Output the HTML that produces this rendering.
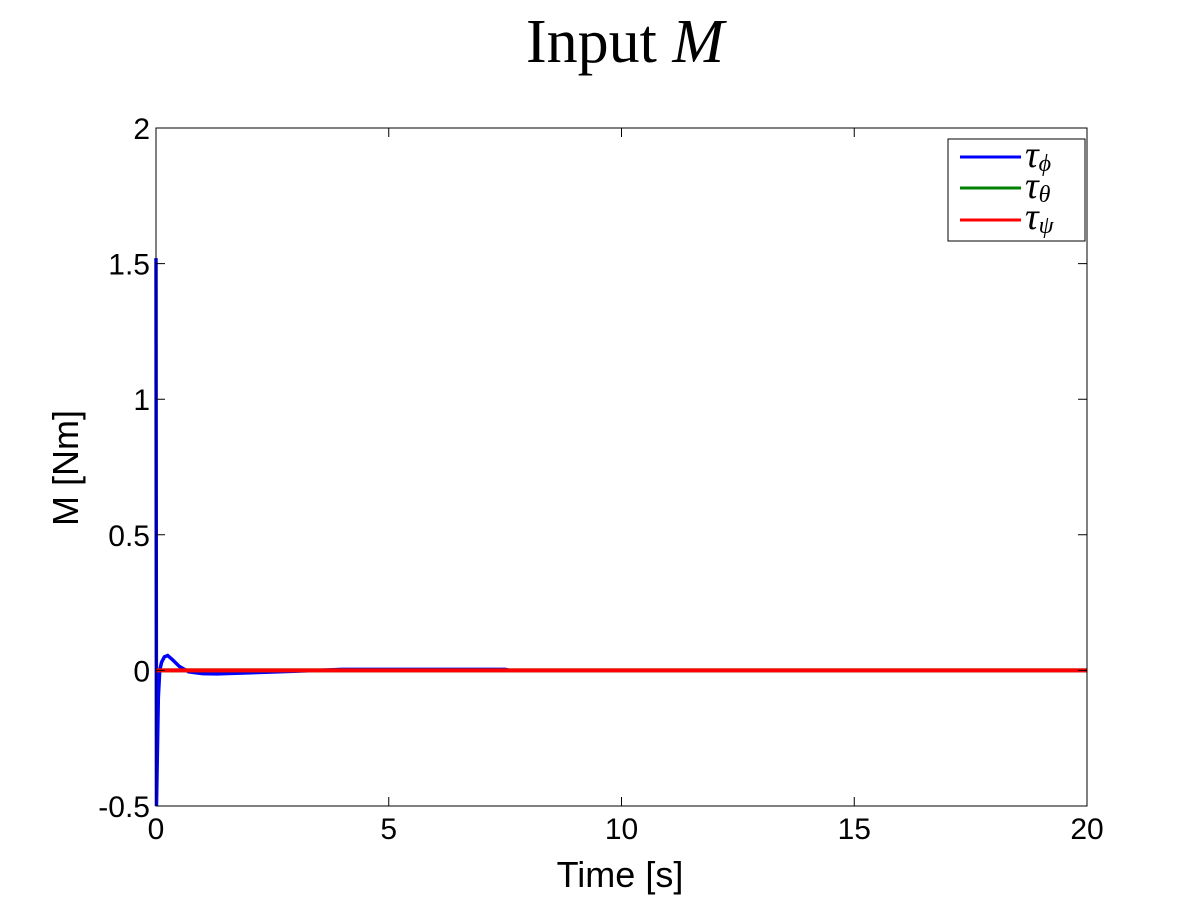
<!DOCTYPE html>
<html><head><meta charset="utf-8"><style>
body{margin:0;background:#fff;width:1201px;height:901px;overflow:hidden}
svg text{font-family:"Liberation Sans",sans-serif}
</style></head><body>
<svg id="chart" width="1201" height="901">
<rect x="0" y="0" width="1201" height="901" fill="#fff"/>
<text x="625" y="62" text-anchor="middle" font-size="62" style="font-family:'Liberation Serif',serif">Input <tspan font-style="italic">M</tspan></text>
<g id="marks"></g>
<rect x="156" y="128" width="931" height="678" fill="none" stroke="#000" stroke-width="1"/>
<g id="ticks"></g>
<text x="620" y="887" text-anchor="middle" font-size="36">Time [s]</text>
<text transform="translate(78,468) rotate(-90)" text-anchor="middle" font-size="36">M [Nm]</text>
<g>
<rect x="948" y="139" width="137" height="102" fill="#fff" stroke="#000"/>
<line x1="960" y1="157" x2="1021" y2="157" stroke="#0000ff" stroke-width="3"/>
<line x1="960" y1="188" x2="1021" y2="188" stroke="#008000" stroke-width="3"/>
<line x1="960" y1="220" x2="1021" y2="220" stroke="#ff0000" stroke-width="3"/>
<text x="1025" y="167" font-size="38" font-style="italic" style="font-family:'Liberation Serif',serif">τ<tspan font-size="24" dy="4">ϕ</tspan></text>
<text x="1025" y="198" font-size="38" font-style="italic" style="font-family:'Liberation Serif',serif">τ<tspan font-size="24" dy="4">θ</tspan></text>
<text x="1025" y="229" font-size="38" font-style="italic" style="font-family:'Liberation Serif',serif">τ<tspan font-size="24" dy="4">ψ</tspan></text>
</g>
</svg>
<script>
const time = [0,0.01,0.03,0.05,0.08,0.12,0.18,0.25,0.35,0.5,0.7,1.0,1.3,1.8,2.5,3.5,4.0,5,7.5,7.6,20];
const tauPhi = [1.52,-0.5,-0.3,-0.1,0.0,0.03,0.05,0.055,0.04,0.015,-0.005,-0.012,-0.013,-0.01,-0.006,0.0,0.004,0.004,0.004,0,0];
const tauThetaT = [0,20];
const tauTheta = [0,0];
const tauPsiT = [0,20];
const tauPsi = [0,0];
const xTicks = [0,5,10,15,20];
const yTicks = [-0.5,0,0.5,1,1.5,2];
const yTickLabels = ["-0.5","0","0.5","1","1.5","2"];

const X0=156,X1=1087,Y0=806,Y1=128;
const xs=t=>X0+(t-0)/(20-0)*(X1-X0);
const ys=v=>Y0-(v+0.5)/(2.5)*(Y0-Y1);
const NS="http://www.w3.org/2000/svg";
const marks=document.getElementById('marks');
function line(ts,vs,color,name,w){
  const p=document.createElementNS(NS,'polyline');
  p.setAttribute('points',ts.map((t,i)=>xs(t)+','+ys(vs[i])).join(' '));
  p.setAttribute('fill','none');p.setAttribute('stroke',color);p.setAttribute('stroke-width',w);
  
  
  marks.appendChild(p);
}
line(time,tauPhi,'#0000ff','series-tau-phi','3.5');
line(tauThetaT,tauTheta,'#008000','series-tau-theta','4');
line(tauPsiT,tauPsi,'#ff0000','series-tau-psi','4');
const tg=document.getElementById('ticks');
xTicks.forEach(t=>{
  const x=xs(t);
  const l=document.createElementNS(NS,'path');
  l.setAttribute('d',`M${x},${Y0}v-9M${x},${Y1}v9`);l.setAttribute('stroke','#000');
  
  
  tg.appendChild(l);
  const tx=document.createElementNS(NS,'text');
  tx.setAttribute('x',x);tx.setAttribute('y',Y0+33);tx.setAttribute('text-anchor','middle');tx.setAttribute('font-size','30');
  tx.textContent=String(t);
  
  
  tg.appendChild(tx);
});
yTicks.forEach((v,i)=>{
  const y=ys(v);
  const l=document.createElementNS(NS,'path');
  l.setAttribute('d',`M${X0},${y}h9M${X1},${y}h-9`);l.setAttribute('stroke','#000');
  
  
  tg.appendChild(l);
  const tx=document.createElementNS(NS,'text');
  tx.setAttribute('x',X0-6);tx.setAttribute('y',y+11);tx.setAttribute('text-anchor','end');tx.setAttribute('font-size','30');
  tx.textContent=yTickLabels[i];
  
  
  tg.appendChild(tx);
});
</script>
</body></html>
